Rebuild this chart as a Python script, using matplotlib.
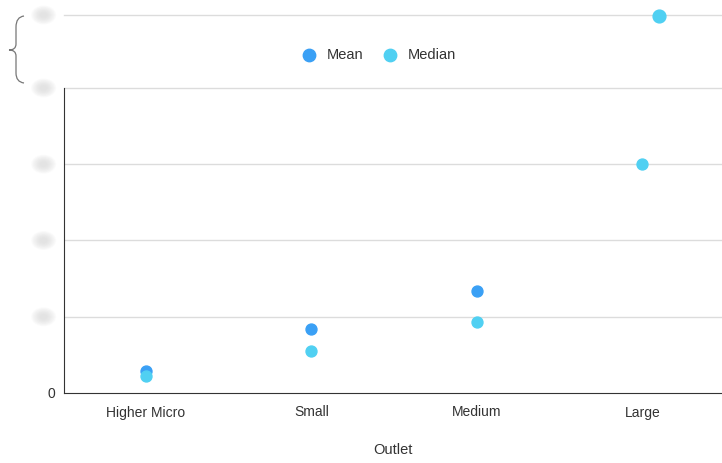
import matplotlib.pyplot as plt
from matplotlib.patches import Ellipse, PathPatch
from matplotlib.path import Path
import numpy as np

plt.rcParams['font.family'] = ['Liberation Sans', 'DejaVu Sans']

# categories and values (y unit = one gridline step, real scale is hidden)
outlets = ['Higher Micro', 'Small', 'Medium', 'Large']
mean_vals = [0.29, 0.84, 1.34]
median_vals = [0.22, 0.55, 0.93, 3.0]
# point drawn above the axis break for Large
large_top = 4.94
yticks = [0, 1, 2, 3, 4]
break_line = 4.957

mean_color = '#3aa0f5'
median_color = '#50d0f2'

fig = plt.figure(figsize=(7.22, 4.63), dpi=100)
ax = fig.add_axes([64 / 722, 70 / 463, 658 / 722, 378 / 463])

x = np.arange(len(outlets))
ax.scatter(x[:3], mean_vals, s=62, color=mean_color, zorder=3, clip_on=False)
ax.scatter(x, median_vals, s=62, color=median_color, zorder=3, clip_on=False)
ax.scatter([3.1], [large_top], s=85, color=median_color, zorder=3, clip_on=False)

ax.set_xlim(-0.495, 3.481)
ax.set_ylim(0, break_line)

for t in yticks[1:]:
    ax.axhline(t, color='#dcdcdc', lw=1, zorder=1)
ax.axhline(break_line, color='#dcdcdc', lw=1, zorder=1, clip_on=False)

for s in ['top', 'right']:
    ax.spines[s].set_visible(False)
ax.spines['left'].set_bounds(0, 4)
ax.spines['left'].set_color('#333333')
ax.spines['bottom'].set_color('#333333')

ax.set_xticks(x)
ax.set_xticklabels(outlets, fontsize=10, color='#333333')
ax.set_yticks(yticks)
ax.set_yticklabels(['0', '', '', '', ''], fontsize=10, color='#333333')
ax.tick_params(axis='x', length=0, pad=9)
ax.tick_params(axis='y', length=0, pad=6)
ax.set_xlabel('Outlet', fontsize=10.5, color='#333333', labelpad=17)

# blurred tick labels
for t in yticks[1:] + [break_line]:
    for k in range(10):
        w = 0.038 * (1 - k * 0.08)
        h = 0.05 * (1 - k * 0.08)
        ax.add_patch(Ellipse((-0.031, t / break_line), w, h, transform=ax.transAxes,
                             color='#cfcfcf', alpha=0.07, lw=0, clip_on=False))

# brace marking the axis break
pts = [(24, 16), (16, 17), (16, 27), (16, 44), (16, 50), (9, 50),
       (16, 50), (16, 56), (16, 73), (16, 82), (24, 83)]
pts = [(px / 722, 1 - py / 463) for px, py in pts]
codes = [Path.MOVETO] + [Path.CURVE3, Path.CURVE3, Path.LINETO,
                         Path.CURVE3, Path.CURVE3, Path.CURVE3, Path.CURVE3,
                         Path.LINETO, Path.CURVE3, Path.CURVE3]
fig.add_artist(PathPatch(Path(pts, codes), transform=fig.transFigure,
                         fill=False, edgecolor='#777777', lw=0.9))

# legend
leg_ax = fig.add_axes([0, 0, 1, 1], facecolor='none')
leg_ax.set_axis_off()
leg_ax.set_xlim(0, 722)
leg_ax.set_ylim(463, 0)
leg_ax.scatter([309], [55], s=80, color=mean_color)
leg_ax.text(327, 55, 'Mean', fontsize=10.5, color='#333333', va='center')
leg_ax.scatter([390], [55], s=80, color=median_color)
leg_ax.text(408, 55, 'Median', fontsize=10.5, color='#333333', va='center')

fig.savefig('out.png')
